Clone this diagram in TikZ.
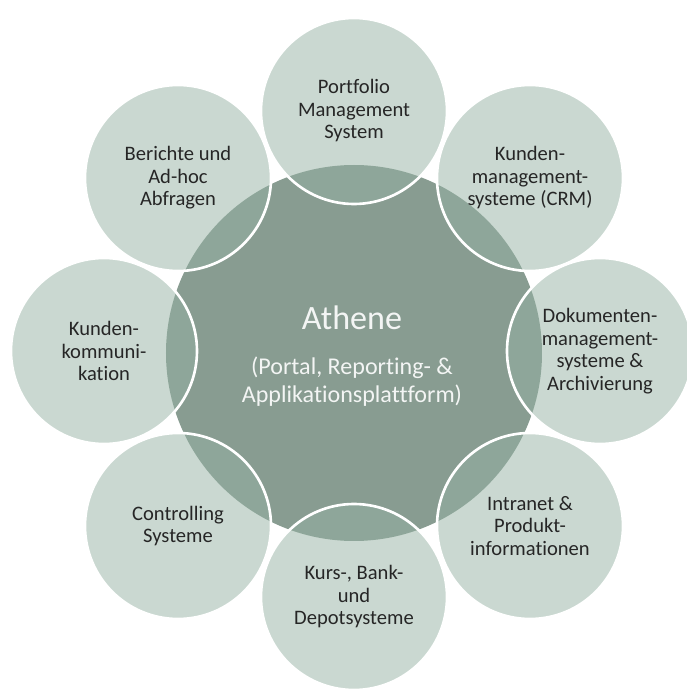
\documentclass[tikz,border=0pt]{standalone}
\usepackage{fontspec}
\setmainfont{Carlito}[Ligatures={NoCommon,NoContextual}]
\usepackage{tikz}

\definecolor{hubgray}{RGB}{136,156,145}
\definecolor{petalgray}{RGB}{149,177,163}
\definecolor{labelgray}{RGB}{38,38,38}
\definecolor{hubtext}{RGB}{243,245,244}

\begin{document}
\begin{tikzpicture}[
    hub/.style = {circle, fill = hubgray, minimum size = 3.76cm, inner sep = 0pt},
    petal/.style = {circle, fill = petalgray, fill opacity = 0.5, text opacity = 1,
      draw = white, line width = 0.75pt, minimum size = 1.86cm, inner sep = 0pt,
      align = center, text = labelgray, font = \fontsize{5.85}{6.4}\selectfont},
    hublabel/.style = {text = hubtext, align = center, inner sep = 0pt}
  ]
  \useasboundingbox (0, 0) rectangle (6.86, 6.95);

  % 中心大圆
  \node [hub] (athene) at (3.54, 3.42) {};

  % 八个外圆, 从上方顺时针
  \node [petal] (portfolio) at (3.54, 5.84) {Portfolio\\Management\\System};
  \node [petal] (crm) at (5.30, 5.17) {Kunden-\\management-\\systeme (CRM)};
  \node [petal] (dms) at (6.00, 3.44) {Dokumenten-\\management-\\systeme \&\\Archivierung};
  \node [petal] (intranet) at (5.30, 1.69) {Intranet \&\\Produkt-\\informationen};
  \node [petal] (kurs) at (3.54, 0.98) {Kurs-, Bank-\\und\\Depotsysteme};
  \node [petal] (controlling) at (1.78, 1.69) {Controlling\\Systeme};
  \node [petal] (kommunikation) at (1.04, 3.44) {Kunden-\\kommuni-\\kation};
  \node [petal] (berichte) at (1.78, 5.17) {Berichte und\\Ad-hoc\\Abfragen};

  % 中心标号
  \node [hublabel, font = \fontsize{9.7}{11}\selectfont] (title) at (3.52, 3.77) {Athene};
  \node [hublabel, font = \fontsize{6.85}{7.95}\selectfont] (subtitle) at (3.52, 3.13)
    {(Portal, Reporting- \&\\Applikationsplattform)};
\end{tikzpicture}
\end{document}
